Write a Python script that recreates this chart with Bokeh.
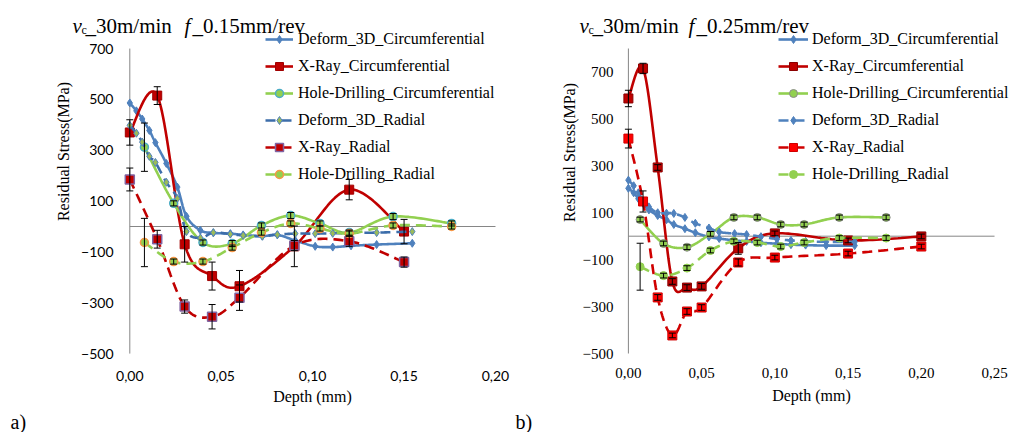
import math
import numpy as np
from bokeh.plotting import figure
from bokeh.models import (Range1d, FixedTicker, CustomJSTickFormatter, Label,
                          Legend, LegendItem, Whisker, TeeHead, ColumnDataSource)
from bokeh.layouts import row
from bokeh.embed import file_html
from bokeh.resources import INLINE

# ---------------- data ----------------
series_names = ["Deform_3D_Circumferential", "X-Ray_Circumferential", "Hole-Drilling_Circumferential",
                "Deform_3D_Radial", "X-Ray_Radial", "Hole-Drilling_Radial"]

deform_depth = [0, 0.0036, 0.0068, 0.0107, 0.014, 0.02, 0.026, 0.031, 0.0386, 0.0457,
                0.055, 0.062, 0.0725, 0.0807, 0.0905, 0.1014, 0.111, 0.121, 0.135, 0.1545]
hd_depth = [0.008, 0.024, 0.04, 0.056, 0.072, 0.088, 0.104, 0.12, 0.144, 0.176]

# chart a) f = 0.15 mm/rev
xray_depth_a = [0, 0.015, 0.03, 0.045, 0.06, 0.09, 0.12, 0.15]
a_deform_circ = [486, 455, 423, 378, 330, 248, 155, 40, -15, -25, -28, -33, -38, -33, -55, -78, -81, -76, -71, -66]
a_deform_rad = [398, 367, 332, 276, 252, 174, 110, -20, -45, -24, -30, -35, -38, -32, -28, -28, -27, -25, -24, -20]
a_xray_circ = [370, 515, -70, -195, -235, -78, 145, -20]
a_xray_circ_err = [50, 35, 70, 55, 62, 80, 40, 48]
a_xray_rad = [185, -50, -315, -355, -280, -75, -58, -140]
a_xray_rad_err = [45, 35, 26, 48, 50, 20, 20, 20]
a_hd_circ = [312, 91, -63, -67, 4, 43, 12, -24, 39, 12]
a_hd_circ_err = [95, 10, 10, 12, 10, 12, 10, 10, 12, 10]
a_hd_rad = [-63, -138, -138, -83, -24, 12, -8, -28, 4, 0]
a_hd_rad_err = [95, 10, 10, 10, 10, 10, 10, 10, 10, 10]

# chart b) f = 0.25 mm/rev
xray_depth_b = [0, 0.01, 0.02, 0.03, 0.04, 0.05, 0.075, 0.1, 0.15, 0.2]
b_deform_circ = [204, 185, 160, 135, 112, 88, 70, 50, 32, 15, -3, -10, -18, -22, -28, -32, -36, -38, -40, -40]
b_deform_rad = [239, 215, 185, 150, 125, 100, 98, 97, 80, 55, 35, 18, 11, 7, -2, -12, -18, -22, -24, -24]
b_xray_circ = [587, 715, 293, -193, -219, -214, -52, 12, -18, -1]
b_xray_circ_err = [35, 22, 12, 12, 12, 12, 25, 10, 10, 10]
b_xray_rad = [416, 148, -261, -423, -321, -304, -112, -91, -74, -44]
b_xray_rad_err = [40, 45, 12, 10, 12, 12, 15, 10, 10, 10]
b_hd_circ = [71, -31, -47, 10, 80, 80, 50, 50, 80, 80]
b_hd_circ_err = [10, 10, 10, 10, 10, 10, 10, 10, 10, 10]
b_hd_rad = [-130, -168, -136, -61, -22, -27, -44, -27, -8, -8]
b_hd_rad_err = [100, 10, 10, 10, 10, 10, 10, 10, 10, 10]

y_ticks = [-500, -300, -100, 100, 300, 500, 700]
x_ticks_a = [0, 0.05, 0.10, 0.15, 0.20]
x_ticks_b = [0, 0.05, 0.10, 0.15, 0.20, 0.25]

SERIF = "'Liberation Serif'"
FIG_H = 432


def smooth(xs, ys, kx, ky, n=24):
    """Excel-like smoothed line (Catmull-Rom Bezier) computed in screen space."""
    P = [(x * kx, y * ky) for x, y in zip(xs, ys)]
    outx, outy = [], []
    m = len(P)
    for i in range(m - 1):
        p0 = P[i - 1] if i > 0 else P[i]
        p1, p2 = P[i], P[i + 1]
        p3 = P[i + 2] if i + 2 < m else P[i + 1]
        c1 = (p1[0] + (p2[0] - p0[0]) / 6, p1[1] + (p2[1] - p0[1]) / 6)
        c2 = (p2[0] - (p3[0] - p1[0]) / 6, p2[1] - (p3[1] - p1[1]) / 6)
        for t in np.linspace(0, 1, n)[(0 if i == 0 else 1):]:
            a = (1 - t) ** 3; b = 3 * (1 - t) ** 2 * t; c = 3 * (1 - t) * t ** 2; d = t ** 3
            outx.append((a * p1[0] + b * c1[0] + c * c2[0] + d * p2[0]) / kx)
            outy.append((a * p1[1] + b * c1[1] + c * c2[1] + d * p2[1]) / ky)
    return outx, outy


class Chart:
    def __init__(self, fig_left, fig_w, x0_page, y0_page, kx, ky, x_end, y_end, x_ticks,
                 tick_font, tick_size, ylab_right, xlab_top):
        self.left = fig_left
        self.kx, self.ky = kx, ky
        xs = (fig_left - x0_page) / kx
        xe = (fig_left + fig_w - x0_page) / kx
        ys = -(FIG_H - y0_page) / ky
        ye = y0_page / ky
        p = figure(width=fig_w, height=FIG_H, x_range=Range1d(xs, xe), y_range=Range1d(ys, ye),
                   min_border_left=0, min_border_right=0, min_border_top=0, min_border_bottom=0,
                   output_backend="svg", toolbar_location=None)
        p.outline_line_color = None
        p.xgrid.visible = False
        p.ygrid.visible = False
        p.background_fill_color = "white"
        p.border_fill_color = "white"
        for ax in (p.xaxis[0], p.yaxis[0]):
            ax.axis_line_color = None
            ax.major_tick_line_color = None
            ax.minor_tick_line_color = None
            ax.major_tick_out = 0
            ax.major_tick_in = 0
            ax.major_label_text_font = tick_font
            ax.major_label_text_font_size = tick_size
            ax.major_label_text_color = "black"
        p.yaxis.ticker = FixedTicker(ticks=y_ticks)
        p.yaxis.major_label_standoff = -(ylab_right - fig_left)
        p.xaxis.ticker = FixedTicker(ticks=x_ticks)
        p.xaxis.formatter = CustomJSTickFormatter(code="return tick.toFixed(2).replace('.', ',');")
        p.xaxis.major_label_standoff = -(FIG_H - xlab_top)
        # axis lines through the origin
        p.segment(x0=[0], y0=[-500], x1=[0], y1=[y_end], line_color="#868686", line_width=1)
        p.segment(x0=[0], y0=[0], x1=[x_end], y1=[0], line_color="#868686", line_width=1)
        self.p = p
        self.renderers = []

    def label(self, X, Y, text, size, style="normal", align="left", baseline="alphabetic", angle=0.0):
        self.p.add_layout(Label(x=X - self.left, y=FIG_H - Y, x_units="screen", y_units="screen",
                                text=text, text_font=SERIF, text_font_size=f"{size}px",
                                text_font_style=style, text_align=align, text_baseline=baseline,
                                angle=angle, text_color="black"))

    def series(self, xs, ys, color, dash, marker, msize, fill, edge, err=None, edge_w=1.0):
        p = self.p
        sx, sy = smooth(xs, ys, self.kx, self.ky)
        lr = p.line(sx, sy, line_color=color, line_width=2.6, line_dash=dash)
        if err is not None:
            src = ColumnDataSource(dict(x=xs, up=[v + e for v, e in zip(ys, err)],
                                        lo=[v - e for v, e in zip(ys, err)]))
            p.add_layout(Whisker(source=src, base="x", upper="up", lower="lo", line_color="black", line_width=1,
                                 upper_head=TeeHead(size=7, line_color="black", line_width=1),
                                 lower_head=TeeHead(size=7, line_color="black", line_width=1), level="glyph"))
        sr = p.scatter(xs, ys, marker=marker, size=msize, fill_color=fill, line_color=edge, line_width=edge_w)
        self.renderers.append([lr, sr])

    def legend(self, X, bottom_Y, glyph_w, standoff):
        leg = Legend(items=[LegendItem(label=n, renderers=r) for n, r in zip(series_names, self.renderers)],
                     location=(X - self.left, FIG_H - bottom_Y), orientation="vertical",
                     label_text_font=SERIF, label_text_font_size="16px", label_text_color="black",
                     glyph_width=glyph_w, glyph_height=20, label_height=20, spacing=7,
                     label_standoff=standoff, padding=0, margin=0,
                     border_line_color=None, background_fill_alpha=0)
        self.p.add_layout(leg)


BLUE = "#4F81BD"
RED = "#C00000"
GREEN = "#92D050"

# ---------------- chart a ----------------
ca = Chart(0, 513, 129.3, 226.0, 373 / 0.204, 305 / 1200, 0.20, 700, x_ticks_a, "Lato", "14px", 113, 370)
ca.series(deform_depth, a_deform_circ, BLUE, "solid", "diamond", 8, BLUE, BLUE)
ca.series(xray_depth_a, a_xray_circ, RED, "solid", "square", 9, RED, "#A00000", a_xray_circ_err)
ca.series(hd_depth, a_hd_circ, GREEN, "solid", "circle", 8, GREEN, "#4BACC6", a_hd_circ_err, 1.5)
ca.series(deform_depth, a_deform_rad, "#3C6DAA", "10 6", "diamond", 8, "#9BBB59", BLUE)
ca.series(xray_depth_a, a_xray_rad, RED, "10 6", "square", 9, RED, "#8064A2", a_xray_rad_err, 1.5)
ca.series(hd_depth, a_hd_rad, GREEN, "10 6", "circle", 8, GREEN, "#F79646", a_hd_rad_err, 1.5)
ca.legend(265, 184, 28, 5)
ca.label(72, 25, "v", 21, "italic")
ca.label(81, 29, "c", 12)
ca.label(85, 25, "_30m/min", 21)
ca.label(184, 25, "f", 21, "italic")
ca.label(192, 25, "_0.15mm/rev", 21)
ca.label(63, 151, "Residual Stress(MPa)", 16, align="center", baseline="middle", angle=math.pi / 2)
ca.label(312, 396, "Depth (mm)", 16, align="center", baseline="middle")
ca.label(10, 421, "a)", 20)

# ---------------- chart b ----------------
cb = Chart(513, 499, 627.9, 235.7, 372 / 0.254, 305 / 1300, 0.25, 800, x_ticks_b, SERIF, "15px", 613, 367)
cb.series(deform_depth, b_deform_circ, BLUE, "solid", "diamond", 8, BLUE, BLUE)
cb.series(xray_depth_b, b_xray_circ, RED, "solid", "square", 9, RED, "#8B0000", b_xray_circ_err)
cb.series(hd_depth, b_hd_circ, GREEN, "solid", "circle", 8, GREEN, "#8C8C8C", b_hd_circ_err)
cb.series(deform_depth, b_deform_rad, BLUE, "10 6", "diamond", 8, BLUE, BLUE)
cb.series(xray_depth_b, b_xray_rad, "#D00000", "10 6", "square", 9, "#FF0000", "#D00000", b_xray_rad_err)
cb.series(hd_depth, b_hd_rad, GREEN, "10 6", "circle", 8, GREEN, GREEN, b_hd_rad_err)
cb.legend(778, 184, 30, 4)
cb.label(579, 25, "v", 21, "italic")
cb.label(588, 29, "c", 12)
cb.label(592, 25, "_30m/min", 21)
cb.label(688, 25, "f", 21, "italic")
cb.label(696, 25, "_0.25mm/rev", 21)
cb.label(569, 152, "Residual Stress(MPa)", 16, align="center", baseline="middle", angle=math.pi / 2)
cb.label(811, 395, "Depth (mm)", 16, align="center", baseline="middle")
cb.label(515, 421, "b)", 20)

layout = row(ca.p, cb.p)
open("out.html", "w").write(file_html(layout, INLINE))
